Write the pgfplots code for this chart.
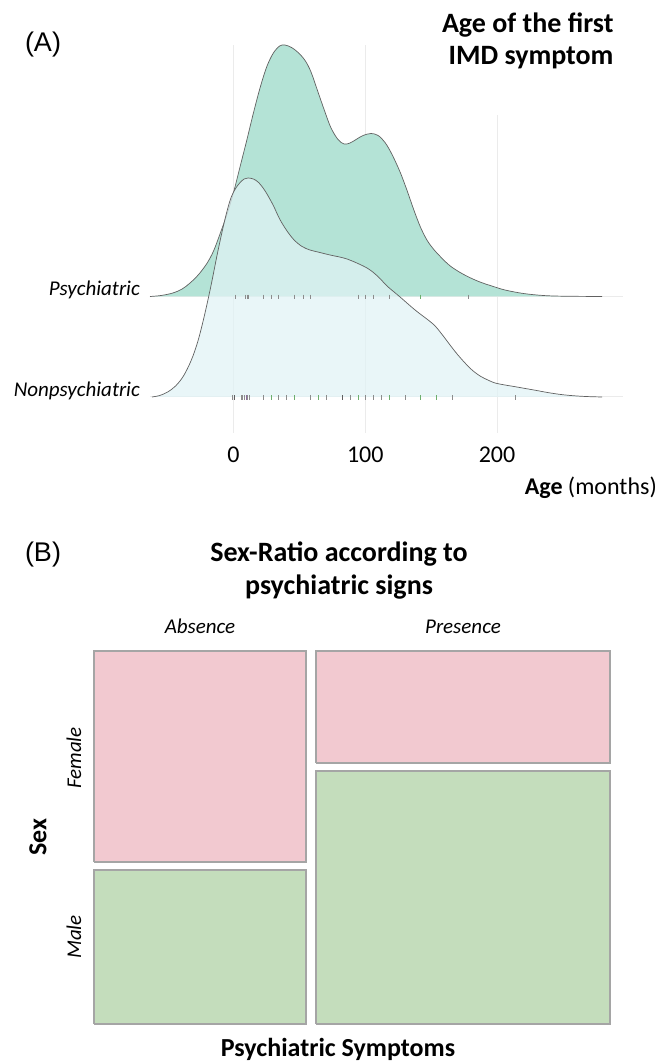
\documentclass[border=0pt]{standalone}
\usepackage{fontspec}
\setmainfont{Carlito}
\newfontfamily\arialf{Liberation Sans}
\usepackage{pgfplots}
\usepackage{pgfplotstable}
\pgfplotsset{compat=1.18}
\definecolor{psychc}{HTML}{B4E3D6}
\definecolor{nonc}{HTML}{E1F3F5}
\definecolor{gridc}{HTML}{EBEBEB}
\definecolor{femc}{HTML}{F2C9D0}
\definecolor{malec}{HTML}{C4DDBC}
\definecolor{boxc}{HTML}{A5A5A5}
\definecolor{rugg}{HTML}{8C8C8C}
\definecolor{rugdark}{HTML}{606060}
\definecolor{rugg2}{HTML}{6DAE6D}
\definecolor{rugp}{HTML}{8E6E9E}

% density curves (months, height above ridge baseline)
\pgfplotstableread{
m h
-63.4 0
-55 1
-46 3.5
-39 7.5
-33 13.5
-26.5 22
-20 33.5
-15 46
-10 63.5
-5 82
0 104
5 130
10 156
15 183
20 208
25 229
30 243
35 250.5
39 251.5
44 249
49 244
54.3 236
58.8 224.5
64.1 204.5
69.4 184.5
74.0 168.5
79.3 157
83.9 152.5
88.4 153.5
93.0 157
98.3 161
104.4 163
109.7 161
115.0 154
120.3 142
126.4 124.5
131.7 106
137.0 86
142 69
147 56
152 47
158 38.5
164 31
172 24
180 18.5
188 14
196 10.5
206 6.5
220 3
235 1
250 0.3
279.7 0
}\psych

\pgfplotstableread{
m h
-61.9 0
-56 1.5
-50 5
-44 11
-38 21
-32 37
-27 56
-22 82
-17 112
-12 145
-7 175
-3 195
0 205
4 213
8 218
11 219
15 218
19 214.5
24 206
30 192
35 178
40.6 166
46 157
52 150.5
58 147
64 145
73.2 142
86.1 138
101.3 129
110 120
116.5 111
126.4 100
137.8 87
151.4 73
158 63
164.3 52
170 42.5
175.7 34
181 27
187.1 21
193 17
198.5 14
206 12
213.7 10.3
221 8.6
228.8 6.8
237 4.8
245.5 3
254 1.7
263.0 0.8
271 0.3
279.7 0
}\nonpsych

\begin{document}
\begin{tikzpicture}
\path[use as bounding box] (0pt,0pt) rectangle (660pt,1061pt);

% ---------------- Panel A ----------------
\begin{axis}[
  at={(150pt,628pt)}, anchor=south west,
  scale only axis, width=473pt, height=400pt,
  xmin=-63.4, xmax=295.6, ymin=0, ymax=400,
  axis line style={draw=none}, tick style={draw=none},
  xtick={0,100,200}, ytick=\empty,
  /pgf/number format/assume math mode=true,
  xticklabel style={font=\fontsize{24}{24}\selectfont, anchor=base, yshift=-29.5pt},
  clip=false]
  % grid
  \draw[gridc, line width=1pt] (axis cs:0,0) -- (axis cs:0,388);
  \draw[gridc, line width=1pt] (axis cs:100,0) -- (axis cs:100,388);
  \draw[gridc, line width=1pt] (axis cs:200,0) -- (axis cs:200,318);
  \draw[gridc, line width=1pt] (axis cs:-63.4,136.5) -- (axis cs:295.6,136.5);
  \draw[gridc, line width=1pt] (axis cs:-63.4,36) -- (axis cs:295.6,36);
  % ridges
  \addplot[draw=black!62, line width=0.7pt, fill=psychc, smooth, tension=0.55]
    table[x=m, y expr=\thisrow{h}+136.5] {\psych};
  \addplot[draw=black!62, line width=0.7pt, fill=nonc, fill opacity=0.72, smooth, tension=0.55]
    table[x=m, y expr=\thisrow{h}+36] {\nonpsych};
  % rugs
  \addplot[only marks, mark=|, mark size=2.4pt, rugg, mark options={line width=0.8pt}]
    coordinates {(1.5,136) (9.1,136) (10.4,136) (11.6,136) (22.8,136) (28.6,136)
      (34.4,136) (46.4,136) (52.7,136) (58.6,136) (94.5,136) (100.4,136)
      (106.5,136) (118.1,136) (178.2,136)};
  \addplot[only marks, mark=|, mark size=2.4pt, rugg2, mark options={line width=0.9pt}]
    coordinates {(142,136)};
  \addplot[only marks, mark=|, mark size=2.4pt, rugg, mark options={line width=0.8pt}]
    coordinates {(-0.5,35.5) (5.8,35.5) (7.1,35.5) (8.4,35.5) (10.9,35.5) (12.2,35.5)
      (22.8,35.5) (34.4,35.5) (40.5,35.5) (58.6,35.5) (70.5,35.5)
      (88.7,35.5) (100.4,35.5) (106.5,35.5) (112.3,35.5) (130.3,35.5)
      (166,35.5) (213.9,35.5)};
  \addplot[only marks, mark=|, mark size=2.4pt, rugdark, mark options={line width=0.8pt}]
    coordinates {(82.6,35.5) (0.8,35.5)};
  \addplot[only marks, mark=|, mark size=2.4pt, rugg2, mark options={line width=0.9pt}]
    coordinates {(28.6,35.5) (46.4,35.5) (64.6,35.5) (94.5,35.5) (118.1,35.5)
      (142,35.5) (154.1,35.5)};
  \addplot[only marks, mark=|, mark size=2.4pt, rugp, mark options={line width=0.8pt}]
    coordinates {(9.6,35.5)};
\end{axis}

\node[font=\arialf\fontsize{27}{27}\selectfont] at (43pt,1016pt) {(A)};
\node[anchor=base east, font=\fontsize{28}{33}\selectfont\bfseries] at (617pt,1028pt) {Age of the first};
\node[anchor=base east, font=\fontsize{28}{33}\selectfont\bfseries] at (617pt,996pt) {IMD symptom};
\node[anchor=base east, inner sep=0pt, font=\fontsize{21}{21}\selectfont\itshape] at (140pt,765pt) {Psychiatric};
\node[anchor=base east, inner sep=0pt, font=\fontsize{21}{21}\selectfont\itshape] at (140pt,664pt) {Nonpsychiatric};
\node[anchor=base east, inner sep=0pt, font=\fontsize{24}{24}\selectfont] at (657pt,566pt) {\textbf{Age} (months)};

% ---------------- Panel B ----------------
\begin{axis}[
  at={(94pt,37pt)}, anchor=south west,
  scale only axis, width=516pt, height=373pt,
  xmin=0, xmax=516, ymin=0, ymax=373,
  hide axis, clip=false]
  % Absence: female / male
  \addplot[fill=femc, draw=boxc, line width=1.1pt]
    coordinates {(0,162) (212,162) (212,373) (0,373) (0,162)};
  \addplot[fill=malec, draw=boxc, line width=1.1pt]
    coordinates {(0,0) (212,0) (212,154) (0,154) (0,0)};
  % Presence: female / male
  \addplot[fill=femc, draw=boxc, line width=1.1pt]
    coordinates {(222,261) (516,261) (516,373) (222,373) (222,261)};
  \addplot[fill=malec, draw=boxc, line width=1.1pt]
    coordinates {(222,0) (516,0) (516,253) (222,253) (222,0)};
\end{axis}

\node[font=\arialf\fontsize{27}{27}\selectfont] at (43pt,506pt) {(B)};
\node[anchor=base, inner sep=0pt, font=\fontsize{28}{33}\selectfont\bfseries] at (339pt,499pt) {Sex-Ratio according to};
\node[anchor=base, inner sep=0pt, font=\fontsize{28}{33}\selectfont\bfseries] at (339pt,466pt) {psychiatric signs};
\node[anchor=base, inner sep=0pt, font=\fontsize{21}{21}\selectfont\itshape] at (200pt,427pt) {Absence};
\node[anchor=base, inner sep=0pt, font=\fontsize{21}{21}\selectfont\itshape] at (463pt,427pt) {Presence};
\node[rotate=90, inner sep=0pt, font=\fontsize{21}{21}\selectfont\itshape] at (74pt,303pt) {Female};
\node[rotate=90, inner sep=0pt, font=\fontsize{21}{21}\selectfont\itshape] at (74pt,124pt) {Male};
\node[rotate=90, inner sep=0pt, font=\fontsize{26}{26}\selectfont\bfseries] at (38pt,224pt) {Sex};
\node[anchor=base, inner sep=0pt, font=\fontsize{26}{26}\selectfont\bfseries] at (338pt,5pt) {Psychiatric Symptoms};
\end{tikzpicture}
\end{document}
